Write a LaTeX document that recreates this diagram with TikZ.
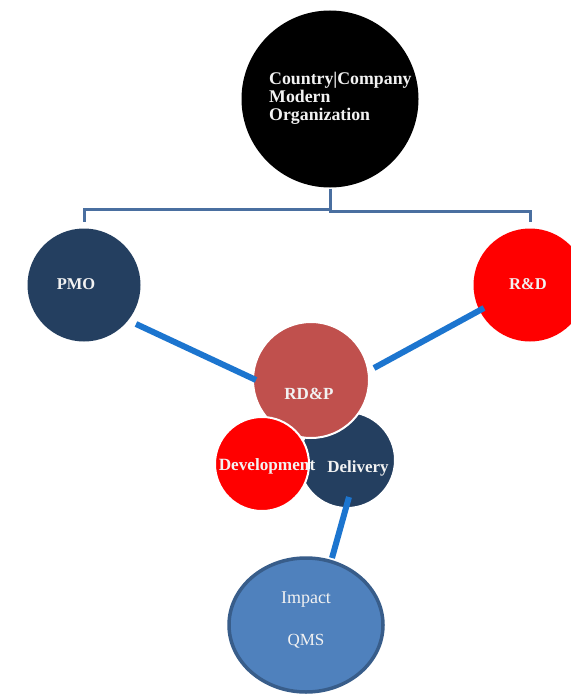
\documentclass[tikz,border=0pt]{standalone}
\usepackage{fontspec}
\setmainfont{Liberation Serif}
\usetikzlibrary{shapes.geometric,calc}
\definecolor{navy}{HTML}{243F60}
\definecolor{rdpred}{HTML}{C0504D}
\definecolor{linkblue}{HTML}{1C75CF}
\definecolor{brk}{HTML}{4A6FA0}
\definecolor{impfill}{HTML}{4F81BD}
\definecolor{impdraw}{HTML}{385D8A}
\definecolor{txt}{HTML}{F2F2F2}
\tikzset{
  disc/.style={circle, inner sep=0pt, line width=2pt},
  lbl/.style={text=txt, font=\bfseries\fontsize{16.5}{18}\selectfont, inner sep=0pt},
  link/.style={draw=linkblue, line width=6pt},
  bracket/.style={draw=brk, line width=3pt},
}
\begin{document}
\begin{tikzpicture}[x=1pt,y=-1pt]
\useasboundingbox[fill=white] (0,0) rectangle (570,695);
% circles
\node[disc, fill=black, minimum size=177pt] (top) at (330,99) {};
\node[lbl, anchor=west, align=left, font=\bfseries\fontsize{17.8}{18}\selectfont] (toptext) at (269,98) {Country|Company\\Modern\\Organization};
\node[disc, fill=navy, minimum size=113pt] (pmo) at (84,285) {};
\node[disc, fill=red, minimum size=113pt] (rd) at (530,285) {};
\node[disc, fill=navy, draw=white, minimum size=96pt] (del) at (347,460) {};
\node[disc, fill=rdpred, draw=white, minimum size=116pt] (rdp) at (311,380) {};
\node[disc, fill=red, draw=white, minimum size=94pt] (dev) at (262,464) {};
\node[ellipse, inner sep=0pt, fill=impfill, draw=impdraw, line width=3.5pt, minimum width=154pt, minimum height=134pt] (imp) at (306,625) {};
% labels
\node[lbl] (pmotext) at (76,284) {PMO};
\node[lbl] (rdtext) at (528,284) {R\&D};
\node[lbl, font=\bfseries\fontsize{17}{18}\selectfont] (rdptext) at (309,394) {RD\&P};
\node[lbl, font=\bfseries\fontsize{17.2}{18}\selectfont] (devtext) at (267,466) {Development};
\node[lbl, font=\bfseries\fontsize{17}{18}\selectfont] (deltext) at (358,468) {Delivery};
\node[text=txt, font=\fontsize{18}{18}\selectfont, inner sep=0pt] (imptext) at (306,600) {Impact};
\node[text=txt, font=\fontsize{17}{18}\selectfont, inner sep=0pt] (qmstext) at (306,641) {QMS};
% bracket
\draw[bracket] (top.south) -- ++(0,21) coordinate (bj) -| ([yshift=6pt]pmo.north);
\draw[bracket] (bj) -- ++(0,1.5) -| ([yshift=6pt]rd.north);
% links
\draw[link] ($(pmo.center)+(52,39)$) -- ($(rdp.center)+(-55,0)$);
\draw[link] ($(rd.center)+(-46,23)$) -- ($(rdp.center)+(63,-12)$);
\draw[link] ($(del.center)+(2,37)$) -- ($(imp.center)+(26,-67)$);
\end{tikzpicture}
\end{document}
